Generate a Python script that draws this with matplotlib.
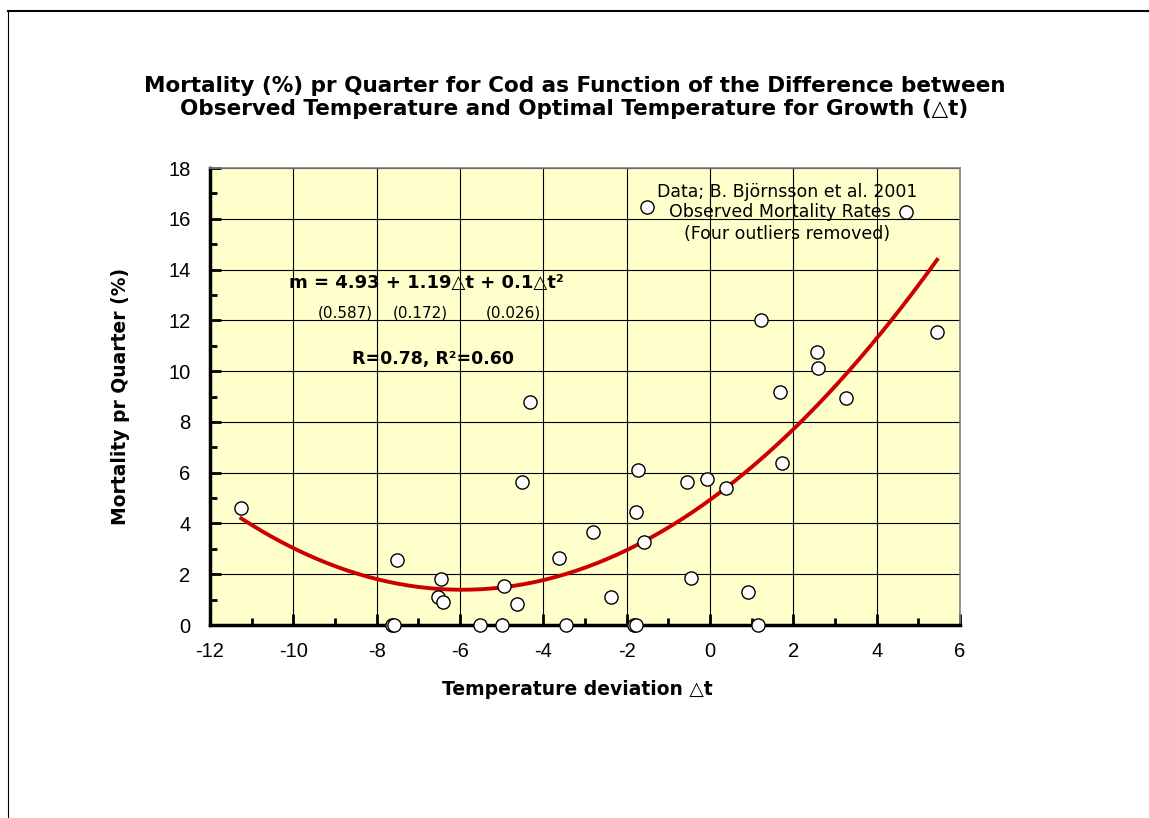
import numpy as np
import matplotlib
matplotlib.use('Agg')
import matplotlib.pyplot as plt
from matplotlib.lines import Line2D
from matplotlib.ticker import MultipleLocator

plt.rcParams['font.family'] = ['DejaVu Sans']
plt.rcParams['axes.unicode_minus'] = False

# observed mortality rates (temperature deviation, mortality %)
dt = [-11.25, -7.52, -6.46, -6.53, -6.41, -7.64, -7.58, -5.52, -5.0, -4.94,
      -4.64, -4.52, -4.32, -3.62, -3.46, -2.82, -2.38, -1.82, -1.78, -1.74,
      -1.78, -1.59, -1.51, -0.56, -0.46, -0.07, 0.39, 0.92, 1.16, 1.22,
      1.72, 1.68, 2.58, 2.60, 3.27, 5.44, 4.70]
mort = [4.61, 2.56, 1.82, 1.11, 0.92, 0.0, 0.0, 0.0, 0.0, 1.54,
        0.83, 5.62, 8.77, 2.65, 0.0, 3.67, 1.12, 0.0, 0.0, 6.10,
        4.46, 3.28, 16.47, 5.62, 1.84, 5.75, 5.41, 1.29, 0.0, 12.0,
        6.40, 9.16, 10.76, 10.14, 8.94, 11.54, 16.26]

# fitted quadratic: m = 4.93 + 1.19 dt + 0.1 dt^2
coef = [4.93, 1.19, 0.1]
fit_range = [-11.25, 5.45]

xticks = list(range(-12, 7, 2))
yticks = list(range(0, 19, 2))

fig = plt.figure(figsize=(11.49, 8.18), dpi=100)
ax = fig.add_axes([0.1828, 0.2359, 0.6527, 0.5587])
ax.set_facecolor('#FFFFCC')

tt = np.linspace(fit_range[0], fit_range[1], 200)
ax.plot(tt, coef[0] + coef[1] * tt + coef[2] * tt ** 2, color='#CC0000',
        linewidth=2.8, zorder=3)
ax.plot(dt, mort, linestyle='none', marker='o', markersize=9.5,
        markerfacecolor='white', markeredgecolor='black', markeredgewidth=1.0,
        zorder=4, clip_on=False)

ax.set_xlim(-12, 6)
ax.set_ylim(0, 18)
ax.set_xticks(xticks)
ax.set_yticks(yticks)
ax.xaxis.set_minor_locator(MultipleLocator(1))
ax.yaxis.set_minor_locator(MultipleLocator(1))
ax.grid(True, which='major', color='black', linewidth=0.8)
ax.set_axisbelow(True)
ax.tick_params(which='both', direction='in', width=2, top=False, right=False,
               labelsize=14.5, labelfontfamily='Liberation Sans')
ax.tick_params(which='major', length=8)
ax.tick_params(which='minor', length=5)
ax.tick_params(axis='x', pad=12)
ax.tick_params(axis='y', pad=14)

for s in ['left', 'bottom']:
    ax.spines[s].set_linewidth(2.5)
for s in ['top', 'right']:
    ax.spines[s].set_color('#808080')
    ax.spines[s].set_linewidth(1.2)

ax.set_xlabel('Temperature deviation \u25b3t', fontsize=13.5, fontweight='bold',
              va='center')
ax.set_ylabel('Mortality pr Quarter (%)', fontsize=13.5, fontweight='bold',
              va='center')
ax.xaxis.set_label_coords(0.49, -0.142)
ax.yaxis.set_label_coords(-0.12, 0.5)

fig.text(0.5, 0.881, 'Mortality (%) pr Quarter for Cod as Function of the Difference between\n'
         'Observed Temperature and Optimal Temperature for Growth (\u25b3t)',
         ha='center', va='center', fontsize=15.5, fontweight='bold', linespacing=1.15)

ax.text(0.288, 0.748, 'm = 4.93 + 1.19\u25b3t + 0.1\u25b3t\u00b2', transform=ax.transAxes,
        ha='center', va='center', fontsize=13, fontweight='bold')
ax.text(0.18, 0.683, '(0.587)', transform=ax.transAxes, ha='center', va='center', fontsize=11)
ax.text(0.28, 0.683, '(0.172)', transform=ax.transAxes, ha='center', va='center', fontsize=11)
ax.text(0.404, 0.683, '(0.026)', transform=ax.transAxes, ha='center', va='center', fontsize=11)
ax.text(0.297, 0.582, 'R=0.78, R\u00b2=0.60', transform=ax.transAxes,
        ha='center', va='center', fontsize=12.5, fontweight='bold')

ax.text(0.769, 0.947, 'Data; B. Bj\u00f6rnsson et al. 2001', transform=ax.transAxes,
        ha='center', va='center', fontsize=12.5)
ax.text(0.76, 0.903, 'Observed Mortality Rates', transform=ax.transAxes,
        ha='center', va='center', fontsize=12.5)
ax.text(0.769, 0.855, '(Four outliers removed)', transform=ax.transAxes,
        ha='center', va='center', fontsize=12.5)

# slide frame lines (top and left)
fig.add_artist(Line2D([0.007, 1.0], [0.987, 0.987], color='black', linewidth=1.5,
                      transform=fig.transFigure))
fig.add_artist(Line2D([0.007, 0.007], [0.0, 0.987], color='black', linewidth=0.8,
                      transform=fig.transFigure))

fig.savefig('out.png', dpi=100, facecolor='white')
